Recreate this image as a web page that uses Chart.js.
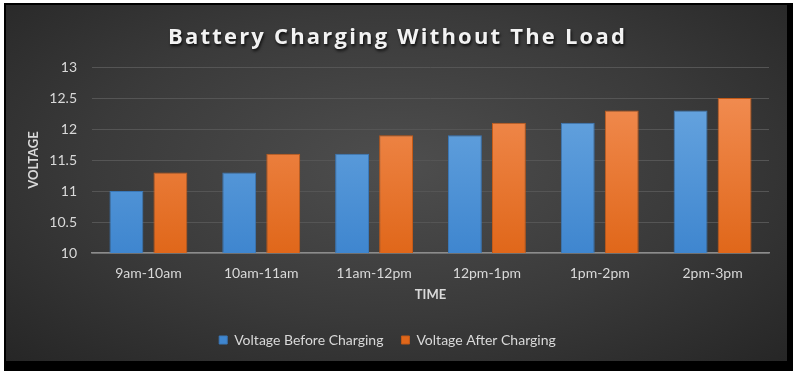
<!DOCTYPE html>
<html>
<head>
<meta charset="utf-8">
<script src="https://cdn.jsdelivr.net/npm/chart.js@4.4.1/dist/chart.umd.min.js"></script>
<style>
    html, body { margin: 0; padding: 0; background: #fff; }
    #frame {
        position: absolute; left: 4px; top: 3px; width: 789px; height: 368px;
        background: #000;
    }
    #wrap {
        position: absolute; left: 2px; top: 2px; width: 781px; height: 356px;
        background: radial-gradient(ellipse at 50% 45%, #4e4e4e 0%, #3a3a3a 55%, #262626 100%);
    }
</style>
</head>
<body>
<div id="frame"><div id="wrap"><canvas id="myChart" width="781" height="356"></canvas></div></div>
<script>
const chartTitle = 'Battery Charging Without The Load';
const timeSlots = ['9am-10am', '10am-11am', '11am-12pm', '12pm-1pm', '1pm-2pm', '2pm-3pm'];
const voltageBefore = [11, 11.3, 11.6, 11.9, 12.1, 12.3];
const voltageAfter = [11.3, 11.6, 11.9, 12.1, 12.3, 12.5];
const yTicks = [10, 10.5, 11, 11.5, 12, 12.5, 13];

/**
 * vertical gradient for the bars
 */
function barGradient(top, bottom)
{
    return (context) => {
        const area = context.chart.chartArea;
        if (!area) {
            return bottom;
        }
        const g = context.chart.ctx.createLinearGradient(0, area.top, 0, area.bottom);
        g.addColorStop(0, top);
        g.addColorStop(1, bottom);
        return g;
    };
}

// title drawn by hand: letter spacing + shadow
const titlePlugin = {
    id: 'spacedTitle',
    afterDraw(chart) {
        const ctx = chart.ctx;
        ctx.save();
        ctx.font = 'bold 22px "Open Sans"';
        ctx.letterSpacing = '2.2px';
        ctx.textAlign = 'center';
        ctx.textBaseline = 'middle';
        ctx.shadowColor = 'rgba(0,0,0,0.8)';
        ctx.shadowOffsetX = 1;
        ctx.shadowOffsetY = 2;
        ctx.shadowBlur = 3;
        ctx.fillStyle = '#f2f2f2';
        ctx.fillText(chartTitle, chart.width / 2 + 1, 33);
        ctx.restore();
    }
};

const chartData = {
    labels: timeSlots,
    datasets: [
        {
            label: 'Voltage Before Charging',
            data: voltageBefore,
            backgroundColor: barGradient('#6eaae2', '#3f86cf'),
            borderColor: '#3a78b8',
            borderWidth: 1,
            categoryPercentage: 0.78,
            barPercentage: 0.77
        },
        {
            label: 'Voltage After Charging',
            data: voltageAfter,
            backgroundColor: barGradient('#f4925a', '#e0671a'),
            borderColor: '#c25a18',
            borderWidth: 1,
            categoryPercentage: 0.78,
            barPercentage: 0.77
        }]
};

const config = {
    type: 'bar',
    data: chartData,
    plugins: [titlePlugin],
    options: {
        responsive: false,
        animation: false,
        layout: {
            padding: { top: 62, right: 18, bottom: 4, left: 0 }
        },
        plugins: {
            legend: {
                position: 'bottom',
                labels: {
                    color: '#d9d9d9',
                    boxWidth: 8,
                    boxHeight: 8,
                    padding: 18,
                    font: { family: 'Lato', size: 14 }
                }
            },
            tooltip: { enabled: false }
        },
        scales: {
            x: {
                afterFit: (scale) => { scale.height = 62; },
                grid: { display: false, drawTicks: false },
                border: { color: '#8c8c8c', width: 1.5 },
                ticks: {
                    color: '#d9d9d9',
                    padding: 12,
                    font: { family: 'Lato', size: 14 }
                },
                title: {
                    display: true,
                    text: 'TIME',
                    color: '#d9d9d9',
                    padding: { top: 4, bottom: 12 },
                    font: { family: 'Lato', size: 13, weight: 'bold' }
                }
            },
            y: {
                min: 10,
                max: 13,
                afterFit: (scale) => { scale.width = 86; },
                afterBuildTicks: (scale) => { scale.ticks = yTicks.map(v => ({ value: v })); },
                grid: { color: '#555555', drawTicks: false },
                border: { display: false },
                ticks: {
                    color: '#d9d9d9',
                    padding: 15,
                    font: { family: 'Lato', size: 14 },
                    callback: (value) => String(value)
                },
                title: {
                    display: true,
                    text: 'VOLTAGE',
                    color: '#d9d9d9',
                    padding: { top: 20, bottom: 0 },
                    font: { family: 'Lato', size: 13, weight: 'bold' }
                }
            }
        }
    }
};

const ctx = document.getElementById('myChart').getContext('2d');

if (ctx) {
    new Chart(ctx, config);
}
</script>
</body>
</html>
